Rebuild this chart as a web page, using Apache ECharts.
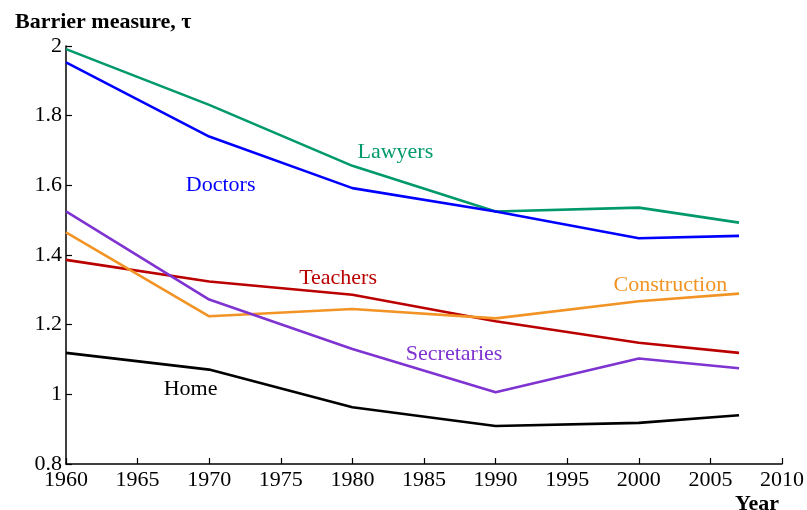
<!DOCTYPE html>
<html>
<head>
<meta charset="utf-8">
<script src="https://cdn.jsdelivr.net/npm/echarts@6/dist/echarts.min.js"></script>
<style>
  html, body { margin: 0; padding: 0; background: #fff; }
  #chart { width: 807px; height: 510px; }
</style>
</head>
<body>
<div id="chart"></div>
<script>
const years = [1960, 1970, 1980, 1990, 2000, 2007];
const lawyers = [1.991, 1.831, 1.656, 1.525, 1.536, 1.493];
const doctors = [1.953, 1.74, 1.592, 1.525, 1.448, 1.455];
const teachers = [1.386, 1.324, 1.286, 1.21, 1.148, 1.119];
const construction = [1.465, 1.224, 1.245, 1.218, 1.267, 1.289];
const secretaries = [1.525, 1.272, 1.13, 1.006, 1.103, 1.075];
const home = [1.119, 1.071, 0.963, 0.909, 0.918, 0.94];

// where each series name sits, in data coordinates
const labelSpots = {
  Lawyers: [1983.0, 1.695],
  Doctors: [1970.8, 1.6],
  Teachers: [1979.0, 1.333],
  Construction: [2002.2, 1.314],
  Secretaries: [1987.1, 1.115],
  Home: [1968.7, 1.015],
};

const serif = "'Liberation Serif', 'DejaVu Serif', serif";

const makeSeries = (name, values, color) => ({
  name,
  type: "line",
  data: years.map((y, i) => [y, values[i]]),
  symbol: "none",
  lineStyle: { color, width: 2.6 },
  itemStyle: { color },
  animation: false,
  markPoint: {
    symbol: "circle",
    symbolSize: 0,
    data: [{ coord: labelSpots[name] }],
    label: {
      show: true,
      position: "inside",
      formatter: name,
      color,
      fontFamily: serif,
      fontSize: 22,
    },
  },
});

const chart = echarts.init(document.getElementById("chart"));
chart.setOption({
  backgroundColor: "#fff",
  animation: false,
  title: [
    {
      text: "Barrier measure, τ",
      left: 10,
      top: 6,
      textStyle: { fontFamily: serif, fontSize: 22, fontWeight: "bold", color: "#000" },
    },
    {
      text: "Year",
      right: 23,
      top: 488,
      textStyle: { fontFamily: serif, fontSize: 22, fontWeight: "bold", color: "#000" },
    },
  ],
  grid: { left: 66, right: 25, top: 46, bottom: 46 },
  xAxis: {
    type: "value",
    min: 1960,
    max: 2010,
    interval: 5,
    axisLine: { show: true, lineStyle: { color: "#000", width: 1.5 } },
    axisTick: { show: true, inside: true, length: 6, lineStyle: { color: "#000", width: 1.2 } },
    axisLabel: {
      color: "#000",
      fontFamily: serif,
      fontSize: 22,
      margin: 5,
      formatter: (v) => String(v),
    },
    splitLine: { show: false },
  },
  yAxis: {
    type: "value",
    min: 0.8,
    max: 2,
    interval: 0.2,
    axisLine: { show: true, lineStyle: { color: "#000", width: 1.5 } },
    axisTick: { show: true, inside: true, length: 6, lineStyle: { color: "#000", width: 1.2 } },
    axisLabel: {
      color: "#000",
      fontFamily: serif,
      fontSize: 22,
      margin: 4,
      formatter: (v) => String(Math.round(v * 10) / 10),
    },
    splitLine: { show: false },
  },
  series: [
    makeSeries("Lawyers", lawyers, "#00996b"),
    makeSeries("Doctors", doctors, "#0000ff"),
    makeSeries("Teachers", teachers, "#bb0000"),
    makeSeries("Construction", construction, "#f29425"),
    makeSeries("Secretaries", secretaries, "#7f33d1"),
    makeSeries("Home", home, "#000000"),
  ],
});
</script>
</body>
</html>
